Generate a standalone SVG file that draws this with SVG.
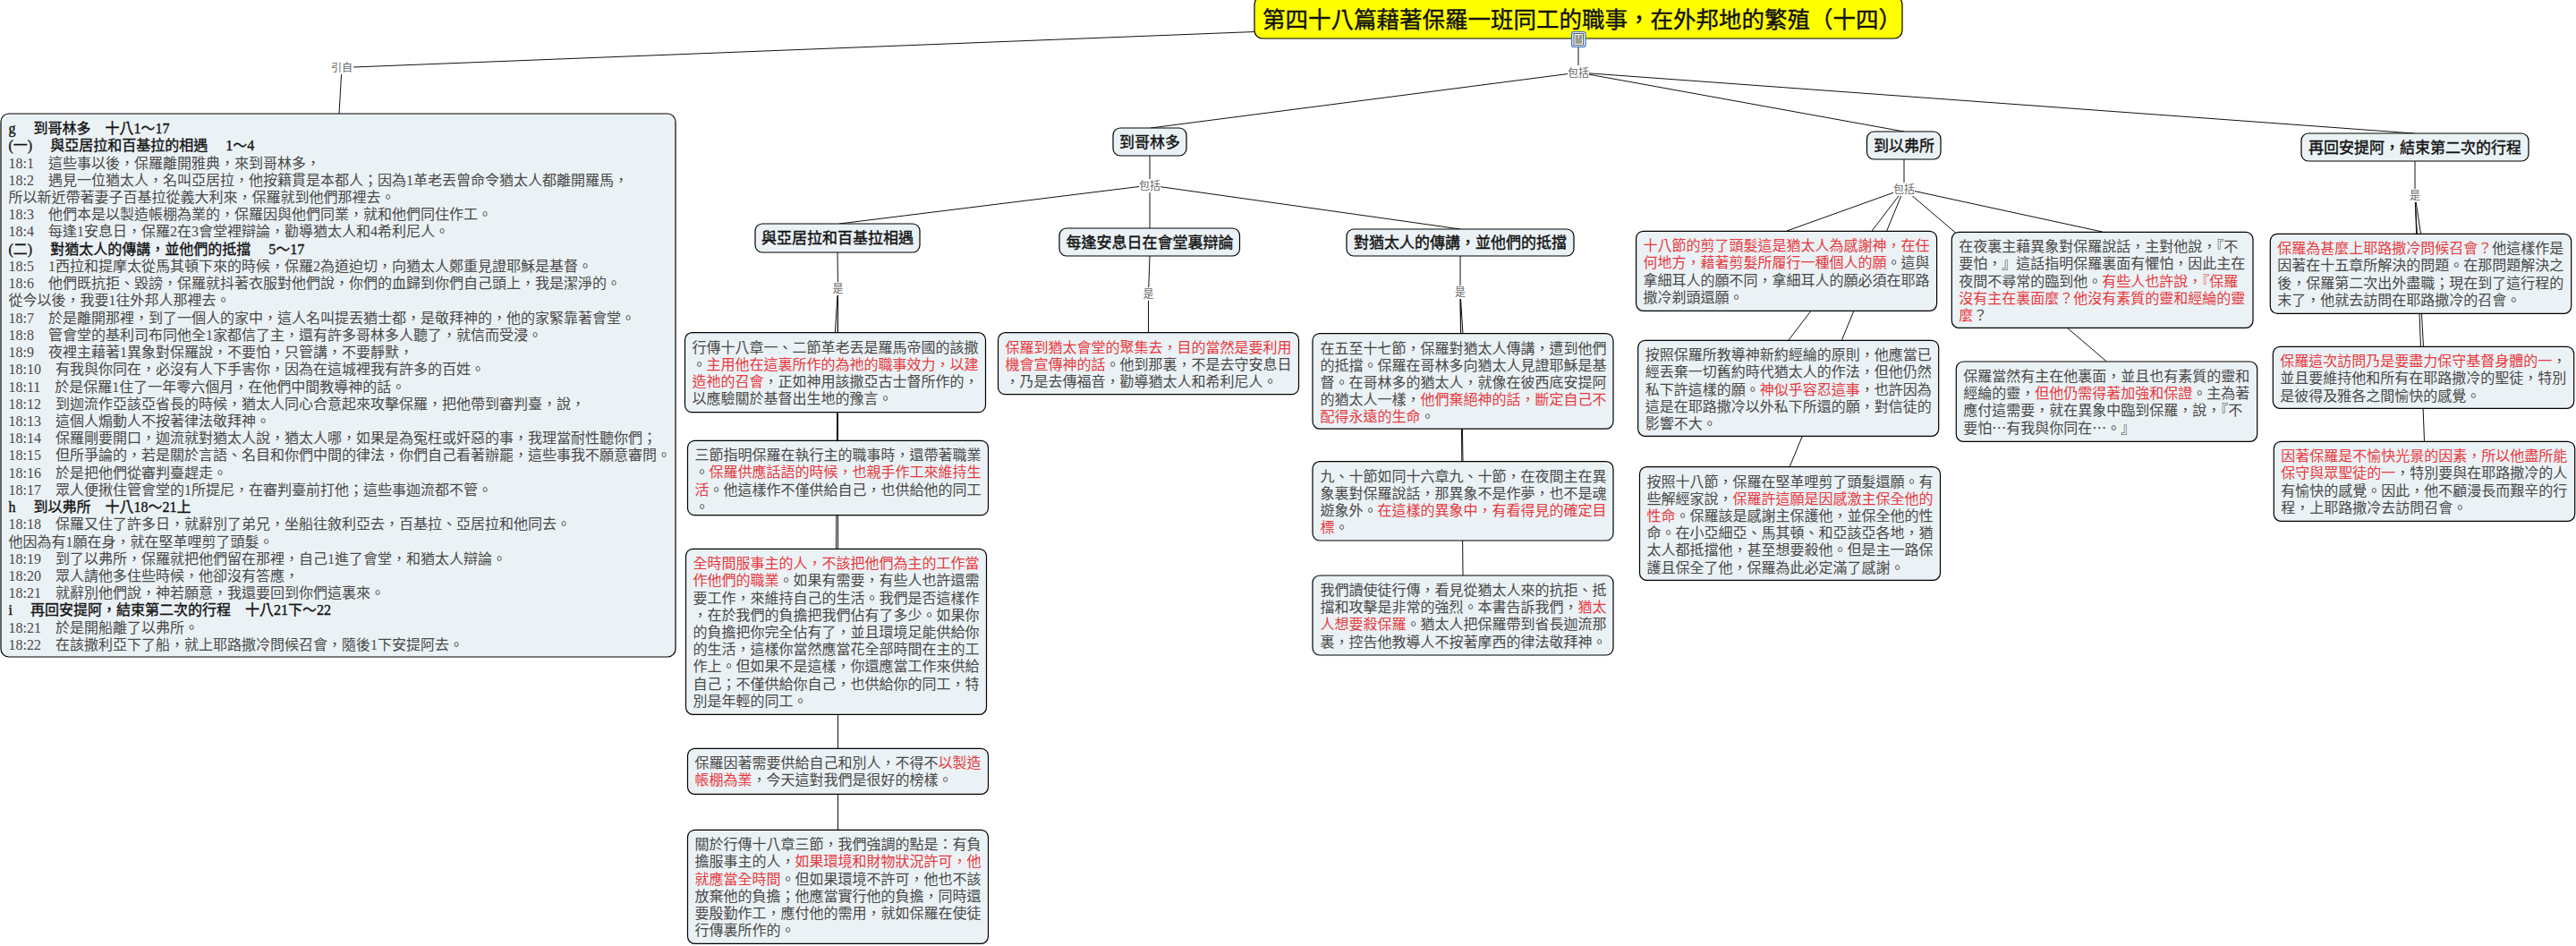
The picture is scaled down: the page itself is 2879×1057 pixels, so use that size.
<svg xmlns="http://www.w3.org/2000/svg" width="2879" height="1057" viewBox="0 0 2879 1057">
<style>
text{font-family:"Liberation Serif","Noto Sans CJK TC",serif;font-size:16px;fill:#484848}
.box{fill:#ebf2f5;stroke:#000;stroke-width:1.2}
.r{fill:#e8383d}
.b{fill:#111;stroke:#111;stroke-width:.35}
.h{font-size:17px;fill:#111;stroke:#111;stroke-width:.4;text-anchor:middle}
.t{font-size:25.5px;fill:#111;stroke:#111;stroke-width:.4}
.c{font-family:"Noto Sans CJK TC",sans-serif}
.lk{stroke:#111;stroke-width:1;fill:none}
.lb{font-size:12px;fill:#666;text-anchor:middle}
.bg{fill:#fff}
</style>
<g id="connectors">
<path class="lk" d="M1402 35.5L395 75M382 75L379 127"/>
<path class="lk" d="M1764 52V81M1764 81L1286 143M1764 81L2128 147M1764 81L2698 149"/>
<path class="lk" d="M1285 174V207M1285 207L938 250M1285 207V255M1285 207L1632 256"/>
<path class="lk" d="M936 282L936.5 322M936.5 322L933.3 372M936.5 322L936.5 492M936.5 322L934.5 613M936.5 322L936.5 836M936.5 322L936.5 927"/>
<path class="lk" d="M1285 286L1283.5 328L1283.5 372"/>
<path class="lk" d="M1632 286V326M1632 326L1635 373M1632 326L1635 516M1632 326L1635 643"/>
<path class="lk" d="M2128 178V211M2128 211L1997 258M2128 211L1999 380M2128 211L2000 522M2128 211L2349.6 259M2128 211L2354.5 404"/>
<path class="lk" d="M2699 180V218M2699 218L2705.5 261M2699 218L2708.5 387M2699 218L2709.5 493"/>
</g>
<g id="link-labels">
<g id="lb-cite"><rect class="bg" x="370" y="68" width="24" height="15"/><text class="lb" x="382" y="80">引自</text></g>
<g id="lb-root"><rect class="bg" x="1752" y="73" width="24" height="15"/><text class="lb" x="1764" y="86">包括</text></g>
<g id="lb-corinth"><rect class="bg" x="1273" y="200" width="24" height="15"/><text class="lb" x="1285" y="212">包括</text></g>
<g id="lb-aquila"><rect class="bg" x="930" y="315" width="13" height="15"/><text class="lb" x="936.5" y="327">是</text></g>
<g id="lb-sabbath"><rect class="bg" x="1277" y="321" width="13" height="15"/><text class="lb" x="1283.5" y="333">是</text></g>
<g id="lb-jews"><rect class="bg" x="1625.500" y="319" width="13" height="15"/><text class="lb" x="1632" y="331">是</text></g>
<g id="lb-ephesus"><rect class="bg" x="2116" y="204" width="24" height="15"/><text class="lb" x="2128" y="216">包括</text></g>
<g id="lb-antioch"><rect class="bg" x="2692.500" y="211" width="13" height="15"/><text class="lb" x="2699" y="223">是</text></g>
</g>
<g id="n-root"><rect x="1402" y="-4" width="724" height="47" rx="9" fill="#ffff00" stroke="#000" stroke-width="1.2"/><text class="t" x="1411" y="31">第四十八篇藉著保羅一班同工的職事，在外邦地的繁殖（十四）</text></g>
<g id="n-icon" transform="translate(1756,35)"><rect x="0.500" y="0.500" width="15.500" height="17" rx="2.500" fill="#e8f0fb" stroke="#3a6fc4" stroke-width="1.2"/><rect x="3" y="2.500" width="10.500" height="13" fill="#fff" stroke="#333" stroke-width="0.8"/><path d="M4.500 5H8M4.500 7H8M4.500 9H12M4.500 11H12M4.500 13H12" stroke="#222" stroke-width="0.9"/><rect x="8.800" y="4" width="3.500" height="4" fill="#7fa36a"/></g>
<g id="n-bible" transform="translate(1,127)"><rect class="box" width="754" height="607" rx="9"/>
<g transform="translate(8.500,0)">
<text class="b" y="22">g　 到哥林多　十八1～17</text>
<text class="b" y="41.200">(一)　 與亞居拉和百基拉的相遇　 1～4</text>
<text y="60.500">18:1　這些事以後，保羅離開雅典，來到哥林多，</text>
<text y="79.700">18:2　遇見一位猶太人，名叫亞居拉，他按籍貫是本都人；因為1革老丟曾命令猶太人都離開羅馬，</text>
<text y="98.900">所以新近帶著妻子百基拉從義大利來，保羅就到他們那裡去。</text>
<text y="118.200">18:3　他們本是以製造帳棚為業的，保羅因與他們同業，就和他們同住作工。</text>
<text y="137.400">18:4　每逢1安息日，保羅2在3會堂裡辯論，勸導猶太人和4希利尼人。</text>
<text class="b" y="156.600">(二)　 對猶太人的傳講，並他們的抵擋　 5～17</text>
<text y="175.800">18:5　1西拉和提摩太從馬其頓下來的時候，保羅2為道迫切，向猶太人鄭重見證耶穌是基督。</text>
<text y="195.100">18:6　他們既抗拒、毀謗，保羅就抖著衣服對他們說，你們的血歸到你們自己頭上，我是潔淨的。</text>
<text y="214.300">從今以後，我要1往外邦人那裡去。</text>
<text y="233.500">18:7　於是離開那裡，到了一個人的家中，這人名叫提丟猶士都，是敬拜神的，他的家緊靠著會堂。</text>
<text y="252.800">18:8　管會堂的基利司布同他全1家都信了主，還有許多哥林多人聽了，就信而受浸。</text>
<text y="272">18:9　夜裡主藉著1異象對保羅說，不要怕，只管講，不要靜默，</text>
<text y="291.200">18:10　有我與你同在，必沒有人下手害你，因為在這城裡我有許多的百姓。</text>
<text y="310.500">18:11　於是保羅1住了一年零六個月，在他們中間教導神的話。</text>
<text y="329.700">18:12　到迦流作亞該亞省長的時候，猶太人同心合意起來攻擊保羅，把他帶到審判臺，說，</text>
<text y="348.900">18:13　這個人煽動人不按著律法敬拜神。</text>
<text y="368.100">18:14　保羅剛要開口，迦流就對猶太人說，猶太人哪，如果是為冤枉或奸惡的事，我理當耐性聽你們；</text>
<text y="387.400">18:15　但所爭論的，若是關於言語、名目和你們中間的律法，你們自己看著辦罷，這些事我不願意審問。</text>
<text y="406.600">18:16　於是把他們從審判臺趕走。</text>
<text y="425.800">18:17　眾人便揪住管會堂的1所提尼，在審判臺前打他；這些事迦流都不管。</text>
<text class="b" y="445.100">h　 到以弗所　十八18～21上</text>
<text y="464.300">18:18　保羅又住了許多日，就辭別了弟兄，坐船往敘利亞去，百基拉、亞居拉和他同去。</text>
<text y="483.500">他因為有1願在身，就在堅革哩剪了頭髮。</text>
<text y="502.800">18:19　到了以弗所，保羅就把他們留在那裡，自己1進了會堂，和猶太人辯論。</text>
<text y="522">18:20　眾人請他多住些時候，他卻沒有答應，</text>
<text y="541.200">18:21　就辭別他們說，神若願意，我還要回到你們這裏來。</text>
<text class="b" y="560.400">i　 再回安提阿，結束第二次的行程　十八21下～22</text>
<text y="579.700">18:21　於是開船離了以弗所。</text>
<text y="598.900">18:22　在該撒利亞下了船，就上耶路撒冷問候召會，隨後1下安提阿去。</text>
</g></g>
<g id="n-corinth"><rect class="box" x="1244" y="143" width="82" height="31" rx="8"/><text class="h" x="1285" y="165">到哥林多</text></g>
<g id="n-aquila"><rect class="box" x="844" y="250" width="184" height="32" rx="8"/><text class="h" x="936" y="272">與亞居拉和百基拉相遇</text></g>
<g id="n-sabbath"><rect class="box" x="1184" y="255" width="201.500" height="31" rx="8"/><text class="h" x="1285" y="277">每逢安息日在會堂裏辯論</text></g>
<g id="n-jews"><rect class="box" x="1505" y="256" width="254" height="30" rx="8"/><text class="h" x="1632" y="277">對猶太人的傳講，並他們的抵擋</text></g>
<g id="n-ephesus"><rect class="box" x="2086.500" y="147" width="82.500" height="31" rx="8"/><text class="h" x="2128" y="169">到以弗所</text></g>
<g id="n-antioch"><rect class="box" x="2572" y="149" width="254" height="31" rx="8"/><text class="h" x="2699" y="171">再回安提阿，結束第二次的行程</text></g>
<g id="n-a1" transform="translate(765.500,371.700)"><rect class="box" width="336" height="89" rx="8"/>
<text x="8" y="22">行傳十八章一、二節革老丟是羅馬帝國的該撒</text>
<text x="8" y="41.200">。<tspan class="r">主用他在這裏所作的為祂的職事效力，以建</tspan></text>
<text x="8" y="60.400"><tspan class="r">造祂的召會</tspan>，正如神用該撒亞古士督所作的，</text>
<text x="8" y="79.600">以應驗關於基督出生地的豫言。</text></g>
<g id="n-a2" transform="translate(768.500,492.300)"><rect class="box" width="336" height="83.400" rx="8"/>
<text x="8" y="22">三節指明保羅在執行主的職事時，還帶著職業</text>
<text x="8" y="41.200">。<tspan class="r">保羅供應話語的時候，也親手作工來維持生</tspan></text>
<text x="8" y="60.400"><tspan class="r">活</tspan>。他這樣作不僅供給自己，也供給他的同工</text>
<text x="8" y="79.600">。</text></g>
<g id="n-a3" transform="translate(766.500,613.300)"><rect class="box" width="336" height="185" rx="8"/>
<text x="8" y="22"><tspan class="r">全時間服事主的人，不該把他們為主的工作當</tspan></text>
<text x="8" y="41.200"><tspan class="r">作他們的職業</tspan>。如果有需要，有些人也許還需</text>
<text x="8" y="60.400">要工作，來維持自己的生活。我們是否這樣作</text>
<text x="8" y="79.600">，在於我們的負擔把我們佔有了多少。如果你</text>
<text x="8" y="98.800">的負擔把你完全佔有了，並且環境足能供給你</text>
<text x="8" y="118">的生活，這樣你當然應當花全部時間在主的工</text>
<text x="8" y="137.200">作上。但如果不是這樣，你還應當工作來供給</text>
<text x="8" y="156.400">自己；不僅供給你自己，也供給你的同工，特</text>
<text x="8" y="175.600">別是年輕的同工。</text></g>
<g id="n-a4" transform="translate(768.500,836.300)"><rect class="box" width="336" height="51" rx="8"/>
<text x="8" y="22">保羅因著需要供給自己和別人，不得不<tspan class="r">以製造</tspan></text>
<text x="8" y="41.200"><tspan class="r">帳棚為業</tspan>，今天這對我們是很好的榜樣。</text></g>
<g id="n-a5" transform="translate(768.500,927.300)"><rect class="box" width="336" height="127" rx="8"/>
<text x="8" y="22">關於行傳十八章三節，我們強調的點是：有負</text>
<text x="8" y="41.200">擔服事主的人，<tspan class="r">如果環境和財物狀況許可，他</tspan></text>
<text x="8" y="60.400"><tspan class="r">就應當全時間</tspan>。但如果環境不許可，他也不該</text>
<text x="8" y="79.600">放棄他的負擔；他應當實行他的負擔，同時還</text>
<text x="8" y="98.800">要殷勤作工，應付他的需用，就如保羅在使徒</text>
<text x="8" y="118">行傳裏所作的。</text></g>
<g id="n-s1" transform="translate(1115.500,371.700)"><rect class="box" width="336" height="69" rx="8"/>
<text x="8" y="22"><tspan class="r">保羅到猶太會堂的聚集去，目的當然是要利用</tspan></text>
<text x="8" y="41.200"><tspan class="r">機會宣傳神的話</tspan>。他到那裏，不是去守安息日</text>
<text x="8" y="60.400">，乃是去傳福音，勸導猶太人和希利尼人。</text></g>
<g id="n-j1" transform="translate(1467,372.600)"><rect class="box" width="336" height="106.500" rx="8"/>
<text x="8.500" y="22">在五至十七節，保羅對猶太人傳講，遭到他們</text>
<text x="8.500" y="41.200">的抵擋。保羅在哥林多向猶太人見證耶穌是基</text>
<text x="8.500" y="60.400">督。在哥林多的猶太人，就像在彼西底安提阿</text>
<text x="8.500" y="79.600">的猶太人一樣，<tspan class="r">他們棄絕神的話，斷定自己不</tspan></text>
<text x="8.500" y="98.800"><tspan class="r">配得永遠的生命</tspan>。</text></g>
<g id="n-j2" transform="translate(1467,515.700)"><rect class="box" width="336" height="88.300" rx="8"/>
<text x="8.500" y="22">九、十節如同十六章九、十節，在夜間主在異</text>
<text x="8.500" y="41.200">象裏對保羅說話，那異象不是作夢，也不是魂</text>
<text x="8.500" y="60.400">遊象外。<tspan class="r">在這樣的異象中，有看得見的確定目</tspan></text>
<text x="8.500" y="79.600"><tspan class="r">標</tspan>。</text></g>
<g id="n-j3" transform="translate(1467,643)"><rect class="box" width="336" height="89" rx="8"/>
<text x="8.500" y="22">我們讀使徒行傳，看見從猶太人來的抗拒、抵</text>
<text x="8.500" y="41.200">擋和攻擊是非常的強烈。本書告訴我們，<tspan class="r">猶太</tspan></text>
<text x="8.500" y="60.400"><tspan class="r">人想要殺保羅</tspan>。猶太人把保羅帶到省長迦流那</text>
<text x="8.500" y="79.600">裏，控告他教導人不按著摩西的律法敬拜神。</text></g>
<g id="n-e1" transform="translate(1828.600,258.300)"><rect class="box" width="336" height="89" rx="8"/>
<text x="8" y="22"><tspan class="r">十八節的剪了頭髮這是猶太人為感謝神，在任</tspan></text>
<text x="8" y="41.200"><tspan class="r">何地方，藉著剪髮所履行一種個人的願</tspan>。這與</text>
<text x="8" y="60.400">拿細耳人的願不同，拿細耳人的願必須在耶路</text>
<text x="8" y="79.600">撒冷剃頭還願。</text></g>
<g id="n-e2" transform="translate(1830.700,380.300)"><rect class="box" width="336" height="107" rx="8"/>
<text x="8" y="22">按照保羅所教導神新約經綸的原則，他應當已</text>
<text x="8" y="41.200">經丟棄一切舊約時代猶太人的作法，但他仍然</text>
<text x="8" y="60.400">私下許這樣的願。<tspan class="r">神似乎容忍這事</tspan>，也許因為</text>
<text x="8" y="79.600">這是在耶路撒冷以外私下所還的願，對信徒的</text>
<text x="8" y="98.800">影響不大。</text></g>
<g id="n-e3" transform="translate(1832.500,521.700)"><rect class="box" width="336" height="126.600" rx="8"/>
<text x="8" y="22">按照十八節，保羅在堅革哩剪了頭髮還願。有</text>
<text x="8" y="41.200">些解經家說，<tspan class="r">保羅許這願是因感激主保全他的</tspan></text>
<text x="8" y="60.400"><tspan class="r">性命</tspan>。保羅該是感謝主保護他，並保全他的性</text>
<text x="8" y="79.600">命。在小亞細亞、馬其頓、和亞該亞各地，猶</text>
<text x="8" y="98.800">太人都抵擋他，甚至想要殺他。但是主一路保</text>
<text x="8" y="118">護且保全了他，保羅為此必定滿了感謝。</text></g>
<g id="n-e4" transform="translate(2181.300,259.300)"><rect class="box" width="336.700" height="107" rx="8"/>
<text x="8" y="22">在夜裏主藉異象對保羅說話，主對他說，『不</text>
<text x="8" y="41.200">要怕，』這話指明保羅裏面有懼怕，因此主在</text>
<text x="8" y="60.400">夜間不尋常的臨到他。<tspan class="r">有些人也許說，『保羅</tspan></text>
<text x="8" y="79.600"><tspan class="r">沒有主在裏面麼？他沒有素質的靈和經綸的靈</tspan></text>
<text x="8" y="98.800"><tspan class="r">麼</tspan>？</text></g>
<g id="n-e5" transform="translate(2186.300,404)"><rect class="box" width="336.400" height="89.300" rx="8"/>
<text x="8" y="22">保羅當然有主在他裏面，並且也有素質的靈和</text>
<text x="8" y="41.200">經綸的靈，<tspan class="r">但他仍需得著加強和保證</tspan>。主為著</text>
<text x="8" y="60.400">應付這需要，就在異象中臨到保羅，說，『不</text>
<text x="8" y="79.600">要怕<tspan class="c">…</tspan>有我與你同在<tspan class="c">…</tspan>。』</text></g>
<g id="n-i1" transform="translate(2537.300,261.300)"><rect class="box" width="336.400" height="89" rx="8"/>
<text x="8" y="22"><tspan class="r">保羅為甚麼上耶路撒冷問候召會？</tspan>他這樣作是</text>
<text x="8" y="41.200">因著在十五章所解決的問題。在那問題解決之</text>
<text x="8" y="60.400">後，保羅第二次出外盡職；現在到了這行程的</text>
<text x="8" y="79.600">末了，他就去訪問在耶路撒冷的召會。</text></g>
<g id="n-i2" transform="translate(2540.300,387.300)"><rect class="box" width="336.400" height="69" rx="8"/>
<text x="8" y="22"><tspan class="r">保羅這次訪問乃是要盡力保守基督身體的一</tspan>，</text>
<text x="8" y="41.200">並且要維持他和所有在耶路撒冷的聖徒，特別</text>
<text x="8" y="60.400">是彼得及雅各之間愉快的感覺。</text></g>
<g id="n-i3" transform="translate(2541.300,493.300)"><rect class="box" width="336.400" height="89" rx="8"/>
<text x="8" y="22"><tspan class="r">因著保羅是不愉快光景的因素，所以他盡所能</tspan></text>
<text x="8" y="41.200"><tspan class="r">保守與眾聖徒的一</tspan>，特別要與在耶路撒冷的人</text>
<text x="8" y="60.400">有愉快的感覺。因此，他不顧漫長而艱辛的行</text>
<text x="8" y="79.600">程，上耶路撒冷去訪問召會。</text></g>
</svg>
